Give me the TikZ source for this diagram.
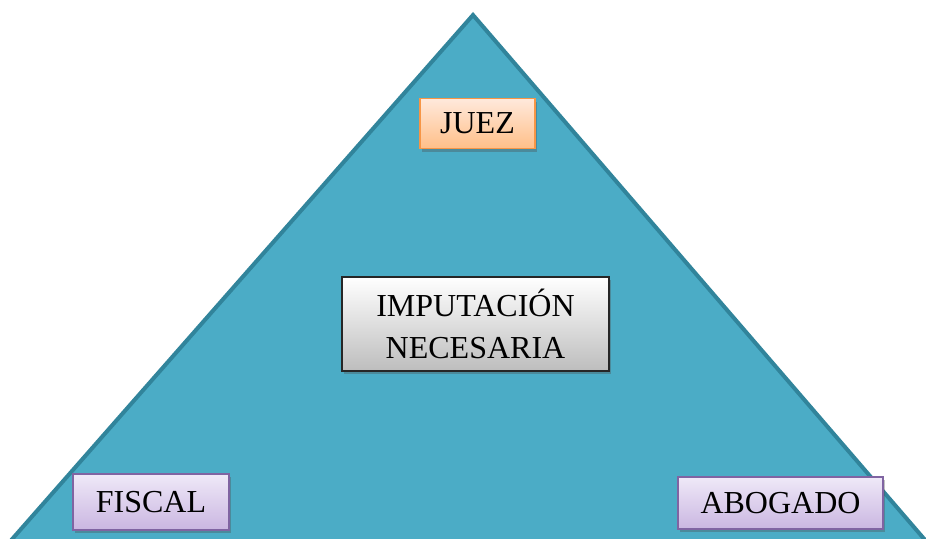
\documentclass[tikz,border=0pt]{standalone}
\usepackage{fontspec}
\setmainfont{Liberation Serif}
\usetikzlibrary{shadows}
\definecolor{tri}{HTML}{4BACC6}
\definecolor{triedge}{HTML}{31849B}
\definecolor{orgtop}{HTML}{FFE9DC}
\definecolor{orgbot}{HTML}{FFBF88}
\definecolor{orgedge}{HTML}{F79646}
\definecolor{grytop}{HTML}{FFFFFF}
\definecolor{grybot}{HTML}{BDBDBD}
\definecolor{purtop}{HTML}{EFE9F8}
\definecolor{purbot}{HTML}{CAB6E1}
\definecolor{puredge}{HTML}{8064A2}
\tikzset{
  box/.style={rectangle, inner sep=0pt, font=\fontsize{32}{42}\selectfont, align=center,
    drop shadow={shadow xshift=2pt, shadow yshift=-3pt, opacity=0.35, fill=black!70}},
  orangebox/.style={box, draw=orgedge, line width=1.5pt, top color=orgtop, bottom color=orgbot},
  greybox/.style={box, draw=black!85, line width=1.5pt, top color=grytop, bottom color=grybot},
  purplebox/.style={box, draw=puredge, line width=1.5pt, top color=purtop, bottom color=purbot}
}
\begin{document}
\begin{tikzpicture}[x=1pt,y=-1pt]
\useasboundingbox (0,0) rectangle (926,538);
\begin{scope}
\clip (0,0) rectangle (926,538);
\draw[fill=tri, draw=triedge, line width=4pt, line join=miter] (473,15) -- (-8,562) -- (944,562) -- cycle;
\end{scope}
\node[orangebox, minimum width=115pt, minimum height=50pt] (juez) at (477.5,123.5) {JUEZ};
\node[greybox, minimum width=267pt, minimum height=94pt] (imp) at (475.5,324) {IMPUTACIÓN\\NECESARIA};
\node[purplebox, minimum width=156pt, minimum height=56pt] (fiscal) at (151,502) {FISCAL};
\node[purplebox, minimum width=205pt, minimum height=52pt] (abogado) at (780.5,503) {ABOGADO};
\end{tikzpicture}
\end{document}
